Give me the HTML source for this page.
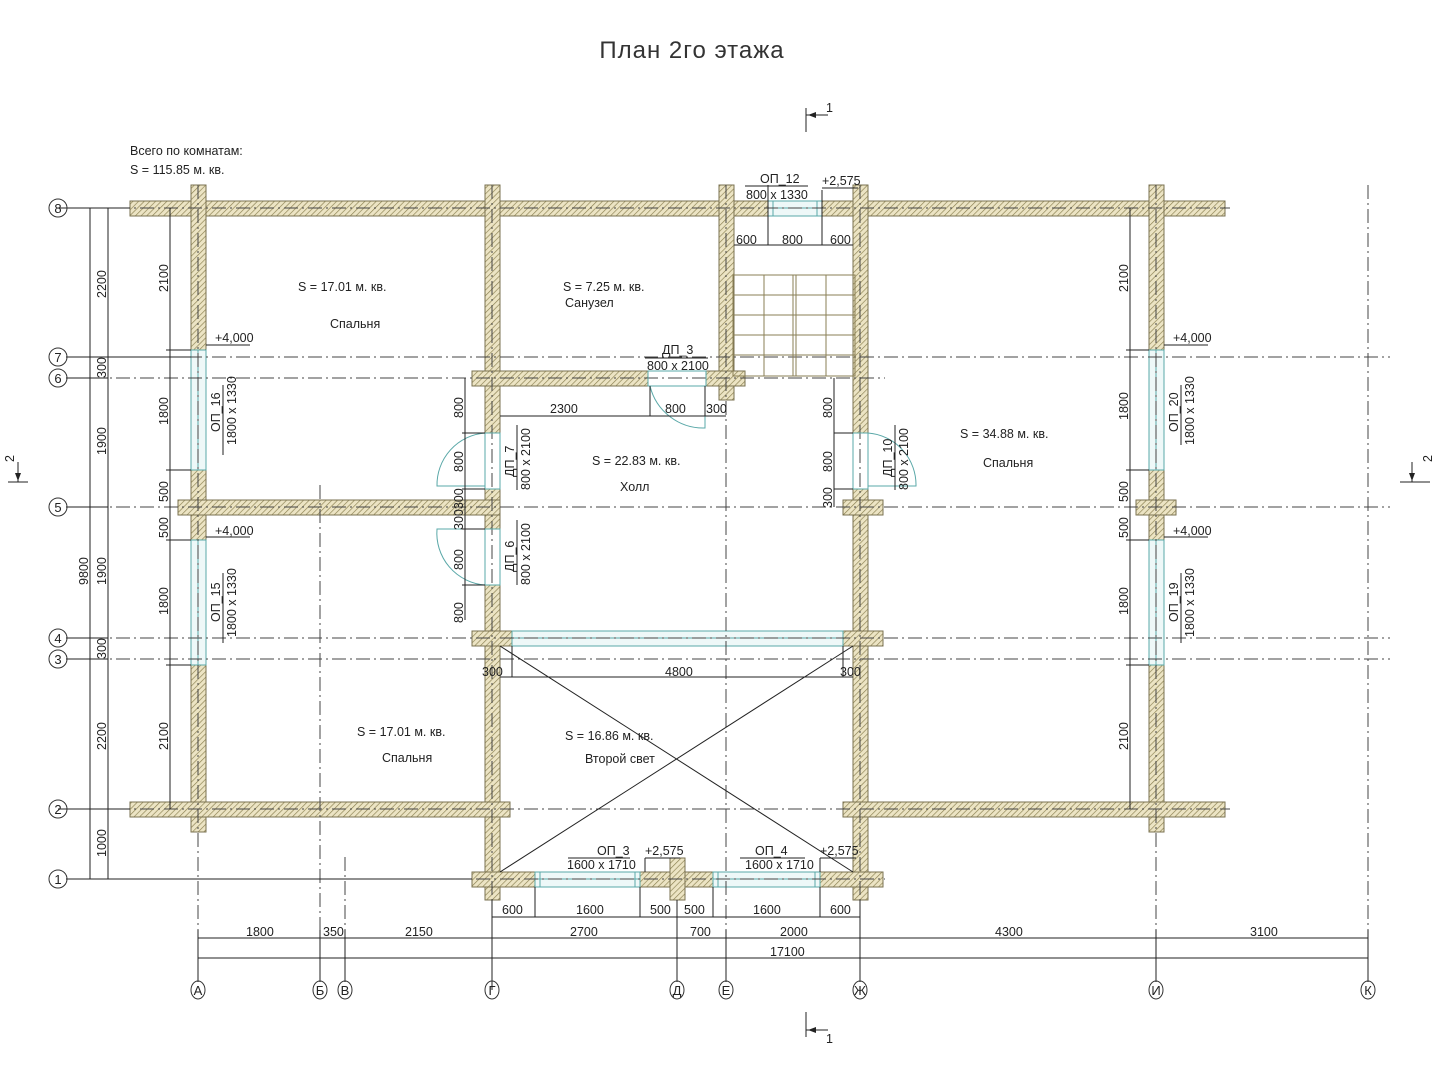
<!DOCTYPE html>
<html><head><meta charset="utf-8"><style>
html,body{margin:0;padding:0;background:#fff;}
svg{display:block;font-family:"Liberation Sans","DejaVu Sans",sans-serif;}
.w{fill:url(#h);stroke:#7a7250;stroke-width:1}
.win{fill:#eef8f8;stroke:#5aa8a8;stroke-width:1}
.ax{stroke:#444;stroke-width:1;stroke-dasharray:14 4 2 4;fill:none}
.d{stroke:#222;stroke-width:1;fill:none}
.t{font-size:12.5px;fill:#222}
.b{fill:none;stroke:#333;stroke-width:1}
.st{stroke:#8a7f55;stroke-width:1;fill:none}
.dr{fill:none;stroke:#5aa8a8;stroke-width:1}
</style></head><body>
<svg width="1440" height="1080" viewBox="0 0 1440 1080" xmlns="http://www.w3.org/2000/svg">
<defs>
<pattern id="h" patternUnits="userSpaceOnUse" width="4" height="4" patternTransform="rotate(45)">
<rect width="4" height="4" fill="#ece4c4"/><line x1="0" y1="0" x2="0" y2="4" stroke="#8a7f50" stroke-width="1.3"/>
</pattern>
</defs>

<text x="692" y="58" text-anchor="middle" font-size="24" fill="#333" style="letter-spacing:1px">План 2го этажа</text>

<text x="130" y="155" class="t">Всего по комнатам:</text>
<text x="130" y="174" class="t">S    =  115.85 м. кв.</text>

<!-- walls -->
<g class="w">
<rect x="130" y="201" width="1095" height="15"/>
<rect x="191" y="185" width="15" height="165"/>
<rect x="191" y="470" width="15" height="70"/>
<rect x="191" y="665" width="15" height="167"/>
<rect x="1149" y="185" width="15" height="165"/>
<rect x="1149" y="470" width="15" height="70"/>
<rect x="1149" y="665" width="15" height="167"/>
<rect x="485" y="185" width="15" height="248"/>
<rect x="485" y="489" width="15" height="40"/>
<rect x="485" y="585" width="15" height="315"/>
<rect x="719" y="185" width="15" height="215"/>
<rect x="853" y="185" width="15" height="248"/>
<rect x="853" y="489" width="15" height="411"/>
<rect x="472" y="371" width="176" height="15"/>
<rect x="706" y="371" width="39" height="15"/>
<rect x="178" y="500" width="322" height="15"/>
<rect x="1136" y="500" width="40" height="15"/>
<rect x="843" y="500" width="40" height="15"/>
<rect x="472" y="631" width="40" height="15"/>
<rect x="843" y="631" width="40" height="15"/>
<rect x="130" y="802" width="380" height="15"/>
<rect x="843" y="802" width="382" height="15"/>
<rect x="472" y="872" width="63" height="15"/>
<rect x="640" y="872" width="73" height="15"/>
<rect x="820" y="872" width="63" height="15"/>
<rect x="670" y="858" width="15" height="42"/>
</g>
<!-- windows -->
<g class="win">
<rect x="768" y="201" width="54" height="15"/>
<rect x="191" y="350" width="15" height="120"/>
<rect x="191" y="540" width="15" height="125"/>
<rect x="1149" y="350" width="15" height="120"/>
<rect x="1149" y="540" width="15" height="125"/>
<rect x="512" y="631" width="331" height="15"/>
<rect x="535" y="872" width="105" height="15"/>
<rect x="713" y="872" width="107" height="15"/>
</g>
<g stroke="#5aa8a8" stroke-width="1">
<line x1="198" y1="350" x2="198" y2="470"/><line x1="198" y1="540" x2="198" y2="665"/>
<line x1="1156" y1="350" x2="1156" y2="470"/><line x1="1156" y1="540" x2="1156" y2="665"/>
<line x1="512" y1="638" x2="843" y2="638"/>
<line x1="535" y1="879" x2="640" y2="879"/><line x1="713" y1="879" x2="820" y2="879"/>
<line x1="768" y1="208" x2="822" y2="208"/>
<line x1="540" y1="872" x2="540" y2="887"/><line x1="635" y1="872" x2="635" y2="887"/>
<line x1="718" y1="872" x2="718" y2="887"/><line x1="815" y1="872" x2="815" y2="887"/>
<line x1="773" y1="201" x2="773" y2="216"/><line x1="817" y1="201" x2="817" y2="216"/>
</g>

<!-- axis lines -->
<g class="ax">
<line x1="68" y1="208" x2="1230" y2="208"/>
<line x1="68" y1="357" x2="1390" y2="357"/>
<line x1="68" y1="378" x2="885" y2="378"/>
<line x1="68" y1="507" x2="1390" y2="507"/>
<line x1="68" y1="638" x2="1390" y2="638"/>
<line x1="68" y1="659" x2="1390" y2="659"/>
<line x1="68" y1="809" x2="1230" y2="809"/>
<line x1="68" y1="879" x2="885" y2="879"/>
<line x1="198" y1="185" x2="198" y2="940"/>
<line x1="492" y1="185" x2="492" y2="900"/>
<line x1="860" y1="185" x2="860" y2="900"/>
<line x1="1156" y1="185" x2="1156" y2="940"/>
<line x1="726" y1="185" x2="726" y2="940"/>
<line x1="320" y1="485" x2="320" y2="940"/>
<line x1="345" y1="857" x2="345" y2="940"/>
<line x1="677" y1="900" x2="677" y2="940"/>
<line x1="1368" y1="185" x2="1368" y2="940"/>
</g>

<!-- doors -->
<g class="dr">
<rect x="648" y="371" width="58" height="15"/>
<path d="M650 386 A55 55 0 0 0 705 428 L705 386"/>
<rect x="485" y="433" width="15" height="56"/>
<path d="M485 433 A52 52 0 0 0 437 486 L485 486"/>
<rect x="485" y="529" width="15" height="56"/>
<path d="M485 585 A52 52 0 0 1 437 529 L485 529"/>
<rect x="853" y="433" width="15" height="56"/>
<path d="M868 433 A52 52 0 0 1 916 486 L868 486"/>
</g>

<!-- stairs -->
<g class="st">
<rect x="733" y="275" width="122" height="101"/>
<line x1="764" y1="275" x2="764" y2="376"/>
<line x1="793" y1="275" x2="793" y2="376"/>
<line x1="796" y1="275" x2="796" y2="376"/>
<line x1="826" y1="275" x2="826" y2="376"/>
<line x1="733" y1="295" x2="855" y2="295"/>
<line x1="733" y1="315" x2="855" y2="315"/>
<line x1="733" y1="335" x2="855" y2="335"/>
<line x1="733" y1="355" x2="855" y2="355"/>
</g>

<!-- second light X -->
<g class="d">
<line x1="500" y1="646" x2="853" y2="872"/>
<line x1="853" y1="646" x2="500" y2="872"/>
</g>

<!-- dimension lines -->
<g class="d">
<line x1="90" y1="208" x2="90" y2="879"/>
<line x1="108" y1="208" x2="108" y2="879"/>
<line x1="170" y1="208" x2="170" y2="809"/>
<line x1="1130" y1="208" x2="1130" y2="809"/>
<line x1="58" y1="208" x2="130" y2="208"/>
<line x1="66" y1="357" x2="191" y2="357"/>
<line x1="66" y1="378" x2="108" y2="378"/>
<line x1="66" y1="507" x2="108" y2="507"/>
<line x1="66" y1="638" x2="108" y2="638"/>
<line x1="66" y1="659" x2="108" y2="659"/>
<line x1="58" y1="809" x2="130" y2="809"/>
<line x1="66" y1="879" x2="472" y2="879"/>
<line x1="166" y1="350" x2="191" y2="350"/>
<line x1="166" y1="470" x2="191" y2="470"/>
<line x1="166" y1="540" x2="191" y2="540"/>
<line x1="166" y1="665" x2="191" y2="665"/>
<line x1="1126" y1="350" x2="1149" y2="350"/>
<line x1="1126" y1="470" x2="1149" y2="470"/>
<line x1="1126" y1="540" x2="1149" y2="540"/>
<line x1="1126" y1="665" x2="1149" y2="665"/>
<line x1="465" y1="378" x2="465" y2="620"/>
<line x1="462" y1="433" x2="485" y2="433"/>
<line x1="462" y1="489" x2="485" y2="489"/>
<line x1="462" y1="529" x2="485" y2="529"/>
<line x1="462" y1="585" x2="485" y2="585"/>
<line x1="834" y1="378" x2="834" y2="507"/>
<line x1="834" y1="433" x2="853" y2="433"/>
<line x1="834" y1="489" x2="853" y2="489"/>
<line x1="500" y1="416" x2="726" y2="416"/>
<line x1="650" y1="386" x2="650" y2="416"/>
<line x1="705" y1="386" x2="705" y2="416"/>
<line x1="734" y1="245" x2="853" y2="245"/>
<line x1="768" y1="185" x2="768" y2="245"/>
<line x1="822" y1="190" x2="822" y2="245"/>
<line x1="500" y1="677" x2="853" y2="677"/>
<line x1="512" y1="646" x2="512" y2="677"/>
<line x1="843" y1="646" x2="843" y2="677"/>
<line x1="492" y1="917" x2="860" y2="917"/>
<line x1="492" y1="900" x2="492" y2="990"/>
<line x1="535" y1="887" x2="535" y2="917"/>
<line x1="640" y1="887" x2="640" y2="917"/>
<line x1="713" y1="887" x2="713" y2="917"/>
<line x1="820" y1="887" x2="820" y2="917"/>
<line x1="677" y1="900" x2="677" y2="982"/>
<line x1="860" y1="900" x2="860" y2="982"/>
<line x1="198" y1="938" x2="1368" y2="938"/>
<line x1="198" y1="958" x2="1368" y2="958"/>
<line x1="198" y1="930" x2="198" y2="982"/>
<line x1="320" y1="930" x2="320" y2="982"/>
<line x1="345" y1="930" x2="345" y2="982"/>
<line x1="726" y1="930" x2="726" y2="982"/>
<line x1="1156" y1="930" x2="1156" y2="982"/>
<line x1="1368" y1="930" x2="1368" y2="982"/>
<line x1="206" y1="345" x2="250" y2="345"/>
<line x1="206" y1="537" x2="250" y2="537"/>
<line x1="1164" y1="345" x2="1208" y2="345"/>
<line x1="1164" y1="537" x2="1208" y2="537"/>
<line x1="822" y1="188" x2="858" y2="188"/>
<line x1="645" y1="858" x2="680" y2="858"/>
<line x1="645" y1="858" x2="645" y2="872"/>
<line x1="820" y1="858" x2="856" y2="858"/>
<line x1="820" y1="858" x2="820" y2="872"/>
<line x1="745" y1="186" x2="808" y2="186"/>
<line x1="645" y1="358" x2="708" y2="358"/>
<line x1="568" y1="858" x2="630" y2="858"/>
<line x1="740" y1="858" x2="805" y2="858"/>
<line x1="223" y1="385" x2="223" y2="455"/>
<line x1="223" y1="573" x2="223" y2="643"/>
<line x1="1181" y1="385" x2="1181" y2="445"/>
<line x1="1181" y1="573" x2="1181" y2="643"/>
<line x1="517" y1="425" x2="517" y2="490"/>
<line x1="517" y1="520" x2="517" y2="585"/>
<line x1="895" y1="425" x2="895" y2="490"/>
</g>

<!-- labels -->
<g class="t">
<text x="298" y="291">S    =  17.01 м. кв.</text>
<text x="330" y="328">Спальня</text>
<text x="563" y="291">S    =  7.25 м. кв.</text>
<text x="565" y="307">Санузел</text>
<text x="592" y="465">S    =  22.83 м. кв.</text>
<text x="620" y="491">Холл</text>
<text x="960" y="438">S    =  34.88 м. кв.</text>
<text x="983" y="467">Спальня</text>
<text x="357" y="736">S    =  17.01 м. кв.</text>
<text x="382" y="762">Спальня</text>
<text x="565" y="740">S    =  16.86 м. кв.</text>
<text x="585" y="763">Второй свет</text>
<text x="760" y="183">ОП_12</text>
<text x="746" y="199">800 x 1330</text>
<text x="822" y="185">+2,575</text>
<text x="736" y="244">600</text>
<text x="782" y="244">800</text>
<text x="830" y="244">600</text>
<text x="662" y="354">ДП_3</text>
<text x="647" y="370">800 x 2100</text>
<text x="550" y="413">2300</text>
<text x="665" y="413">800</text>
<text x="706" y="413">300</text>
<text x="215" y="342">+4,000</text>
<text x="215" y="535">+4,000</text>
<text x="1173" y="342">+4,000</text>
<text x="1173" y="535">+4,000</text>
<text x="482" y="676">300</text>
<text x="665" y="676">4800</text>
<text x="840" y="676">300</text>
<text x="597" y="855">ОП_3</text>
<text x="567" y="869">1600 x 1710</text>
<text x="645" y="855">+2,575</text>
<text x="755" y="855">ОП_4</text>
<text x="745" y="869">1600 x 1710</text>
<text x="820" y="855">+2,575</text>
<text x="502" y="914">600</text>
<text x="576" y="914">1600</text>
<text x="650" y="914">500</text>
<text x="684" y="914">500</text>
<text x="753" y="914">1600</text>
<text x="830" y="914">600</text>
<text x="246" y="936">1800</text>
<text x="323" y="936">350</text>
<text x="405" y="936">2150</text>
<text x="570" y="936">2700</text>
<text x="690" y="936">700</text>
<text x="780" y="936">2000</text>
<text x="995" y="936">4300</text>
<text x="1250" y="936">3100</text>
<text x="770" y="956">17100</text>
</g>
<g class="t">
<text transform="translate(106,298) rotate(-90)">2200</text>
<text transform="translate(106,378) rotate(-90)">300</text>
<text transform="translate(106,455) rotate(-90)">1900</text>
<text transform="translate(106,585) rotate(-90)">1900</text>
<text transform="translate(106,659) rotate(-90)">300</text>
<text transform="translate(106,750) rotate(-90)">2200</text>
<text transform="translate(106,857) rotate(-90)">1000</text>
<text transform="translate(88,585) rotate(-90)">9800</text>
<text transform="translate(168,292) rotate(-90)">2100</text>
<text transform="translate(168,425) rotate(-90)">1800</text>
<text transform="translate(168,502) rotate(-90)">500</text>
<text transform="translate(168,538) rotate(-90)">500</text>
<text transform="translate(168,615) rotate(-90)">1800</text>
<text transform="translate(168,750) rotate(-90)">2100</text>
<text transform="translate(1128,292) rotate(-90)">2100</text>
<text transform="translate(1128,420) rotate(-90)">1800</text>
<text transform="translate(1128,502) rotate(-90)">500</text>
<text transform="translate(1128,538) rotate(-90)">500</text>
<text transform="translate(1128,615) rotate(-90)">1800</text>
<text transform="translate(1128,750) rotate(-90)">2100</text>
<text transform="translate(220,432) rotate(-90)">ОП_16</text>
<text transform="translate(236,445) rotate(-90)">1800 x 1330</text>
<text transform="translate(220,622) rotate(-90)">ОП_15</text>
<text transform="translate(236,637) rotate(-90)">1800 x 1330</text>
<text transform="translate(1178,432) rotate(-90)">ОП_20</text>
<text transform="translate(1194,445) rotate(-90)">1800 x 1330</text>
<text transform="translate(1178,622) rotate(-90)">ОП_19</text>
<text transform="translate(1194,637) rotate(-90)">1800 x 1330</text>
<text transform="translate(514,477) rotate(-90)">ДП_7</text>
<text transform="translate(530,490) rotate(-90)">800 x 2100</text>
<text transform="translate(514,572) rotate(-90)">ДП_6</text>
<text transform="translate(530,585) rotate(-90)">800 x 2100</text>
<text transform="translate(892,477) rotate(-90)">ДП_10</text>
<text transform="translate(908,490) rotate(-90)">800 x 2100</text>
<text transform="translate(463,418) rotate(-90)">800</text>
<text transform="translate(463,472) rotate(-90)">800</text>
<text transform="translate(463,530) rotate(-90)">300300</text>
<text transform="translate(463,570) rotate(-90)">800</text>
<text transform="translate(463,623) rotate(-90)">800</text>
<text transform="translate(832,418) rotate(-90)">800</text>
<text transform="translate(832,472) rotate(-90)">800</text>
<text transform="translate(832,508) rotate(-90)">300</text>
</g>

<!-- axis bubbles -->
<g class="b">
<circle cx="58" cy="208" r="9"/><circle cx="58" cy="357" r="9"/><circle cx="58" cy="378" r="9"/>
<circle cx="58" cy="507" r="9"/><circle cx="58" cy="638" r="9"/><circle cx="58" cy="659" r="9"/>
<circle cx="58" cy="809" r="9"/><circle cx="58" cy="879" r="9"/>
<ellipse cx="198" cy="990" rx="7" ry="9"/><ellipse cx="320" cy="990" rx="7" ry="9"/>
<ellipse cx="345" cy="990" rx="7" ry="9"/><ellipse cx="492" cy="990" rx="7" ry="9"/>
<ellipse cx="677" cy="990" rx="7" ry="9"/><ellipse cx="726" cy="990" rx="7" ry="9"/>
<ellipse cx="860" cy="990" rx="7" ry="9"/><ellipse cx="1156" cy="990" rx="7" ry="9"/>
<ellipse cx="1368" cy="990" rx="7" ry="9"/>
</g>
<g font-size="13" fill="#222" text-anchor="middle">
<text x="58" y="213">8</text><text x="58" y="362">7</text><text x="58" y="383">6</text>
<text x="58" y="512">5</text><text x="58" y="643">4</text><text x="58" y="664">3</text>
<text x="58" y="814">2</text><text x="58" y="884">1</text>
<text x="198" y="995">А</text><text x="320" y="995">Б</text><text x="345" y="995">В</text>
<text x="492" y="995">Г</text><text x="677" y="995">Д</text><text x="726" y="995">Е</text>
<text x="860" y="995">Ж</text><text x="1156" y="995">И</text><text x="1368" y="995">К</text>
</g>

<!-- section marks -->
<g class="d">
<line x1="806" y1="108" x2="806" y2="132"/><line x1="806" y1="115" x2="828" y2="115"/>
<line x1="806" y1="1012" x2="806" y2="1037"/><line x1="806" y1="1030" x2="828" y2="1030"/>
<line x1="8" y1="482" x2="28" y2="482"/><line x1="18" y1="462" x2="18" y2="482"/>
<line x1="1400" y1="482" x2="1430" y2="482"/><line x1="1412" y1="462" x2="1412" y2="482"/>
</g>
<g fill="#222">
<polygon points="808,115 816,112 816,118"/><polygon points="808,1030 816,1027 816,1033"/>
<polygon points="18,481 15,473 21,473"/><polygon points="1412,481 1409,473 1415,473"/>
</g>
<g class="t">
<text x="826" y="112">1</text><text x="826" y="1043">1</text>
<text transform="translate(14,462) rotate(-90)">2</text>
<text transform="translate(1432,462) rotate(-90)">2</text>
</g>
</svg>
</body></html>
